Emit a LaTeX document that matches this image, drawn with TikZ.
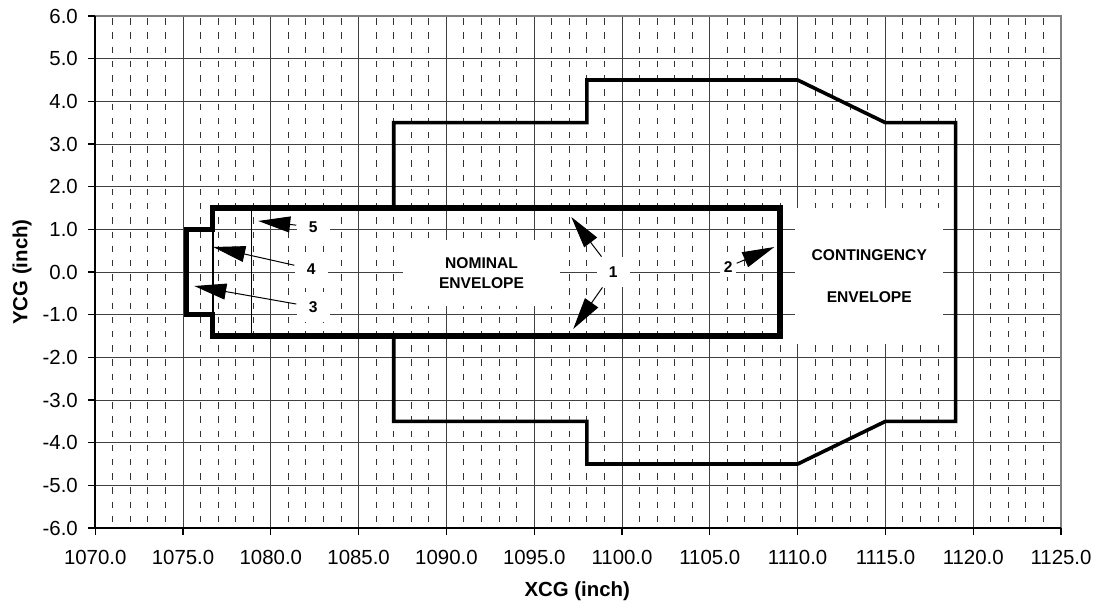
\documentclass[tikz,border=0pt]{standalone}
\usepackage{fontspec}
\setmainfont{Liberation Sans}
\usetikzlibrary{arrows.meta}

\begin{document}
\begin{tikzpicture}[x=8.78pt,y=21.335pt,
    gridline/.style={black!75,line width=0.5pt},
    minorline/.style={black!80,line width=0.5pt,dash pattern=on 3.2pt off 3.91pt,dash phase=6pt},
    nominal/.style={line width=2.6pt},
    contingency/.style={line width=1.8pt},
    pointer/.style={line width=0.5pt,-{Triangle[length=16pt,width=8pt]}},
    numlbl/.style={fill=white,font=\fontsize{7.8}{9}\selectfont\bfseries,minimum width=16.5pt,minimum height=15pt,inner sep=0pt},
    ticklbl/.style={font=\fontsize{10.2}{12}\selectfont,inner sep=0pt},
    textbox/.style={fill=white,inner sep=0pt,align=center}]
    \useasboundingbox (1064.59,-7.827) rectangle (1127.12,6.375);

    % 网格
    \foreach \m in {1070,1075,...,1120}
      \foreach \k in {1,2,3,4}
        \draw[minorline] (\m+\k,6) -- (\m+\k,-6);
    \foreach \x in {1075,1080,...,1120}
        \draw[gridline] (\x,6) -- (\x,-6);
    \foreach \y in {-5,...,5}
        \draw[gridline] (1070,\y) -- (1125,\y);

    % 坐标轴
    \draw[black!50,line width=1pt] (1070,6) -- (1125,6) -- (1125,-6);
    \draw[black,line width=0.9pt] (1070,6) -- (1070,-6) -- (1125,-6);
    \foreach \y/\t in {6/6.0,5/5.0,4/4.0,3/3.0,2/2.0,1/1.0,0/0.0,-1/-1.0,-2/-2.0,-3/-3.0,-4/-4.0,-5/-5.0,-6/-6.0} {
        \draw[line width=0.6pt] (1070,\y) -- ++(-3.5pt,0);
        \node[ticklbl,anchor=east] (yt\y) at (1069.03,\y) {\t};
    }
    \foreach \x in {1070,1075,...,1125} {
        \draw[line width=0.6pt] (\x,-6) -- ++(0,-3.5pt);
        \node[ticklbl] (xt\x) at (\x,-6.70) {\x.0};
    }
    \node[ticklbl,font=\fontsize{10.2}{12}\selectfont\bfseries] (xlabel) at (1097.45,-7.475) {XCG (inch)};
    \node[ticklbl,font=\fontsize{10.2}{12}\selectfont\bfseries,rotate=90] (ylabel) at (1065.84,0) {YCG (inch)};

    % 文字框
    \node[textbox,minimum width=78.5pt,minimum height=33pt,font=\fontsize{7.8}{10}\selectfont\bfseries] (nomtext) at (1092.0,-0.02) {NOMINAL\\ENVELOPE};
    \node[textbox,minimum width=74pt,minimum height=68pt,font=\fontsize{7.8}{21}\selectfont\bfseries] (context) at (1114.08,-0.09) {CONTINGENCY\\ENVELOPE};

    % 包络线
    \draw[contingency] (1087,1.5) -- (1087,3.5) -- (1098,3.5) -- (1098,4.5) -- (1110,4.5) -- (1115,3.5) -- (1119,3.5)
        -- (1119,-3.5) -- (1115,-3.5) -- (1110,-4.5) -- (1098,-4.5) -- (1098,-3.5) -- (1087,-3.5) -- (1087,-1.5);
    \draw[nominal] (1076.7,1.5) -- (1109,1.5) -- (1109,-1.5) -- (1076.7,-1.5) -- (1076.7,-1) -- (1075.2,-1) -- (1075.2,1) -- (1076.7,1) -- cycle;
    \draw[line width=0.8pt] (1078.9,1.5) -- (1078.9,-1.5);
    \draw[line width=0.8pt] (1076.7,1) -- (1076.7,-1);

    % 编号和箭头
    \node[numlbl] (n1) at (1099.5,0) {1};
    \node[numlbl,minimum width=8pt,minimum height=10pt] (n2) at (1106.05,0.12) {2};
    \node[numlbl] (n3) at (1082.41,-0.82) {3};
    \node[numlbl] (n4) at (1082.3,0.07) {4};
    \node[numlbl] (n5) at (1082.41,1.055) {5};

    \coordinate (t1a) at (1097.11,1.29);
    \coordinate (t1b) at (1097.22,-1.335);
    \coordinate (t2) at (1108.67,0.586);
    \coordinate (t3) at (1075.64,-0.328);
    \coordinate (t4) at (1076.72,0.586);
    \coordinate (t5) at (1079.28,1.196);

    \draw[pointer] (n1) -- (t1a);
    \draw[pointer] (n1) -- (t1b);
    \draw[pointer] (n2) -- (t2);
    \draw[pointer] (n3) -- (t3);
    \draw[pointer] (n4) -- (t4);
    \draw[pointer] (n5) -- (t5);

\end{tikzpicture}
\end{document}
